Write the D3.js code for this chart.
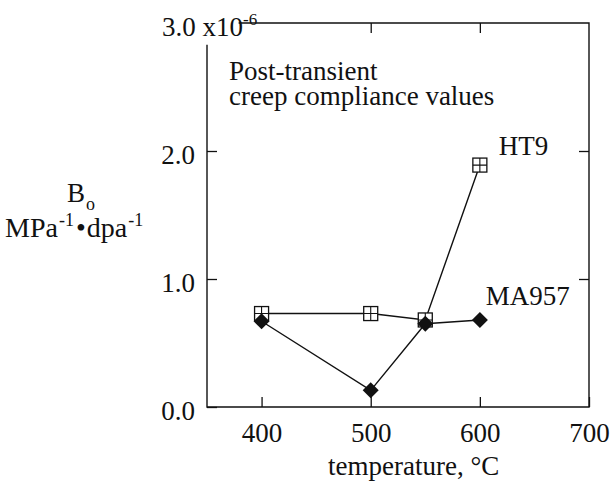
<!DOCTYPE html>
<html>
<head>
<meta charset="utf-8">
<script src="https://cdn.jsdelivr.net/npm/d3@7"></script>
<style>
  body { margin: 0; background: #fff; }
  svg { display: block; }
  svg text { font-family: "Liberation Serif", "Times New Roman", serif; }
</style>
</head>
<body>
<div id="chart"></div>
<script>
const temps = [400, 500, 550, 600];
const ht9 = [0.73, 0.73, 0.68, 1.89];
const ma957 = [0.67, 0.13, 0.65, 0.68];
const xTicks = [400, 500, 600, 700];
const yTicks = [0, 1, 2];

const width = 615, height = 487;
const ink = "#111";
const serif = "'Liberation Serif', 'Times New Roman', serif";

const svg = d3.select("#chart")
    .append("svg")
    .attr("width", width)
    .attr("height", height);

const x = d3.scaleLinear().domain([350, 700]).range([207, 589]);
const y = d3.scaleLinear().domain([0, 3]).range([407, 23]);

// frame (left axis stops short of the top, top line starts after the label)
svg.append("path")
    .attr("d", `M${x(350)},${y(2.83)}V${y(0)}H${x(700)}V${y(3)}H${x(379)}`)
    .attr("stroke", ink)
    .attr("stroke-width", 1.4)
    .attr("fill", "none");

function styleAxis(g) {
    g.attr("font-family", null).attr("font-size", 27);
    g.select(".domain").remove();
    g.selectAll("line").attr("stroke", ink).attr("stroke-width", 1.3);
    g.selectAll("text").attr("fill", ink).style("font-family", serif);
}

// bottom axis
svg.append("g")
    .attr("transform", `translate(0,${y(0)})`)
    .call(d3.axisBottom(x).tickValues(xTicks).tickSizeInner(-10).tickSizeOuter(0).tickPadding(16))
    .call(styleAxis);

// left axis
svg.append("g")
    .attr("transform", `translate(${x(350)},0)`)
    .call(d3.axisLeft(y).tickValues(yTicks).tickFormat(d3.format(".1f"))
        .tickSizeInner(-10).tickSizeOuter(0).tickPadding(12))
    .call(styleAxis)
    .selectAll("text").attr("dy", "0.46em");

// top and right ticks
svg.append("g")
    .attr("transform", `translate(0,${y(3)})`)
    .call(d3.axisTop(x).tickValues([500, 600]).tickSizeInner(-10).tickSizeOuter(0).tickFormat(""))
    .call(styleAxis);

svg.append("g")
    .attr("transform", `translate(${x(700)},0)`)
    .call(d3.axisRight(y).tickValues([1, 2]).tickSizeInner(-10).tickSizeOuter(0).tickFormat(""))
    .call(styleAxis);

// top tick label with exponent
const topLabel = svg.append("text")
    .attr("x", 162)
    .attr("y", y(3) + 12.5)
    .attr("font-size", 27)
    .attr("fill", ink);
topLabel.append("tspan").text("3.0 x10");
topLabel.append("tspan").attr("font-size", 17).attr("dy", -11).text("-6");

// y axis title
const bLabel = svg.append("text")
    .attr("x", 67).attr("y", 202)
    .attr("font-size", 27).attr("fill", ink);
bLabel.append("tspan").text("B");
bLabel.append("tspan").attr("font-size", 18).attr("dx", 1).attr("dy", 8).text("o");

const unit = svg.append("text")
    .attr("x", 5).attr("y", 237)
    .attr("font-size", 28).attr("fill", ink);
unit.append("tspan").text("MPa");
unit.append("tspan").attr("font-size", 18).attr("dx", 1).attr("dy", -11).text("-1");
unit.append("tspan").attr("dx", 2).attr("dy", 11).text("\u2022");
unit.append("tspan").attr("dx", 1).text("dpa");
unit.append("tspan").attr("font-size", 18).attr("dx", 1).attr("dy", -11).text("-1");

// x axis title
svg.append("text")
    .attr("x", 328).attr("y", 475)
    .attr("font-size", 27).attr("fill", ink)
    .text("temperature, \u00B0C");

// annotation
const note = svg.append("text")
    .attr("font-size", 27).attr("fill", ink);
note.append("tspan").attr("x", 229).attr("y", 80).text("Post-transient");
note.append("tspan").attr("x", 229).attr("y", 105).text("creep compliance values");

// series
const line = d3.line().x(d => x(d[0])).y(d => y(d[1]));
const ht9Pts = d3.zip(temps, ht9);
const maPts = d3.zip(temps, ma957);

svg.append("path")
    .attr("d", line(ht9Pts))
    .attr("fill", "none").attr("stroke", ink).attr("stroke-width", 1.4);
svg.append("path")
    .attr("d", line(maPts))
    .attr("fill", "none").attr("stroke", ink).attr("stroke-width", 1.4);

const s = 7;
const sq = svg.append("g")
    .selectAll("g")
    .data(ht9Pts)
    .join("g")
    .attr("transform", d => `translate(${x(d[0])},${y(d[1])})`);
sq.append("rect")
    .attr("x", -s).attr("y", -s).attr("width", 2 * s).attr("height", 2 * s)
    .attr("fill", "#fff").attr("stroke", ink).attr("stroke-width", 1.3);
sq.append("path")
    .attr("d", `M${-s},0H${s}M0,${-s}V${s}`)
    .attr("stroke", ink).attr("stroke-width", 1.1);

svg.append("g")
    .selectAll("path")
    .data(maPts)
    .join("path")
    .attr("transform", d => `translate(${x(d[0])},${y(d[1])})`)
    .attr("d", "M0,-8L8,0L0,8L-8,0Z")
    .attr("fill", ink);

// series labels
svg.append("text")
    .attr("x", x(600) + 19).attr("y", y(1.89) - 10)
    .attr("font-size", 27).attr("fill", ink)
    .text("HT9");
svg.append("text")
    .attr("x", x(600) + 6).attr("y", y(0.68) - 15)
    .attr("font-size", 27).attr("fill", ink)
    .text("MA957");
</script>
</body>
</html>
